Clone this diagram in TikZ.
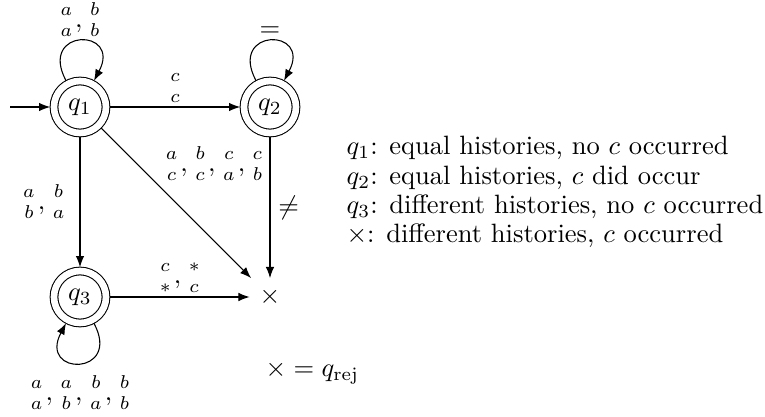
\documentclass[tikz,border=0pt]{standalone}
\usepackage{amsmath}
\usetikzlibrary{arrows.meta}
\newcommand{\pr}[2]{\genfrac{}{}{0pt}{}{#1}{#2}}
\tikzset{
  acc/.style={circle,draw,double,double distance=2.5pt,minimum size=19.6pt,inner sep=0pt,outer sep=1.45pt},
  lbl/.style={inner sep=1.5pt}
}
\begin{document}
\begin{tikzpicture}[x=0.377pt,y=-0.377pt,>={Latex[length=4.2pt,width=3.2pt]}]
\useasboundingbox (0,0) rectangle (765,417);
% states
\node[acc] (q1) at (80,107) {$q_1$};
\node[acc] (q2) at (270,107) {$q_2$};
\node[acc] (q3) at (80,297) {$q_3$};
\node[inner sep=3.6pt] (rej) at (270,297) {$\times$};
\coordinate (start) at (10,107);
% transitions
\draw[->] (start) -- (q1);
\draw[->] (q1) to[out=118,in=62,looseness=5.5] node[lbl,above] {$\pr{a}{a},\pr{b}{b}$} (q1);
\draw[->] (q2) to[out=118,in=62,looseness=5.5] node[lbl,above] {$=$} (q2);
\draw[->] (q3) to[out=298,in=242,looseness=5.5] node[lbl,below=3pt] {$\pr{a}{a},\pr{a}{b},\pr{b}{a},\pr{b}{b}$} (q3);
\draw[->] (q1) -- node[lbl,above] {$\pr{c}{c}$} (q2);
\draw[->] (q1) -- node[lbl,left=3pt] {$\pr{a}{b},\pr{b}{a}$} (q3);
\draw[->] (q1) -- node[lbl,above right,pos=0.38] {$\pr{a}{c},\pr{b}{c},\pr{c}{a},\pr{c}{b}$} (rej);
\draw[->] (q2) -- node[lbl,right=1.5pt] {$\neq$} (rej);
\draw[->] (q3) -- node[lbl,above] {$\pr{c}{*},\pr{*}{c}$} (rej);
% legend
\node[anchor=north west,align=left,inner sep=0pt,font=\fontsize{10}{11}\selectfont] (legend) at (346,136)
  {$q_1$: equal histories, no $c$ occurred\\
   $q_2$: equal histories, $c$ did occur\\
   $q_3$: different histories, no $c$ occurred\\
   $\times$: different histories, $c$ occurred};
\node[anchor=west,inner sep=0pt] (rejdef) at (265,373) {$\times = q_{\mathrm{rej}}$};
\end{tikzpicture}
\end{document}
